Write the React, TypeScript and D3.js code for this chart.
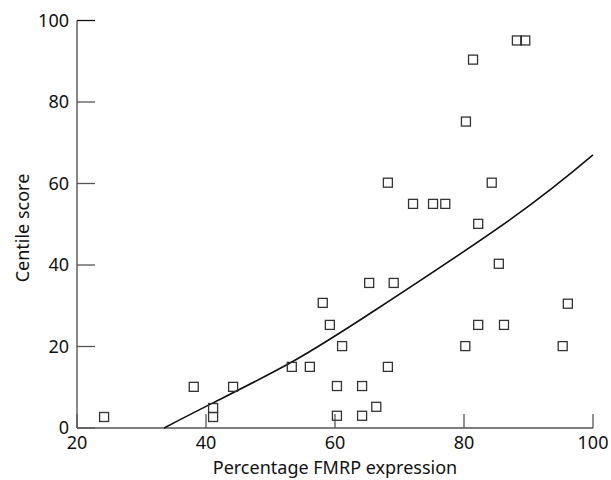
import React from 'react';
import * as d3 from 'd3';

// FMRP expression (%) vs centile score
const fmrp = [24.2, 38.1, 41.1, 41.1, 44.2, 53.3, 56.1, 58.1, 59.2, 60.3, 60.3, 61.1, 64.2, 64.2, 65.3, 66.4, 68.2,
  68.2, 69.1, 72.1, 75.2, 77.1, 80.2, 80.3, 81.4, 82.2, 82.2, 84.3, 85.4, 86.2, 88.2, 89.5, 95.3, 96.1];
const centile = [2.7, 10.1, 4.9, 2.7, 10.1, 15, 15, 30.7, 25.3, 10.3, 3, 20.1, 10.3, 3, 35.6, 5.2, 60.2,
  15, 35.6, 55, 55, 55, 20.1, 75.2, 90.4, 50.1, 25.3, 60.2, 40.3, 25.3, 95.1, 95.1, 20.1, 30.5];

// fitted curve
const fitX = [33.5, 41, 53.3, 66.5, 87.3, 100];
const fitY = [0, 6.1, 16.2, 29.2, 51.3, 67];

const xTicks = [20, 40, 60, 80, 100];
const yTicks = [0, 20, 40, 60, 80, 100];

const W = 611, H = 480;
const axisColor = '#555';
const font = '"Noto Sans", sans-serif';

export default function App() {
  const x = d3.scaleLinear().domain([20, 100]).range([77, 593]);
  const y = d3.scaleLinear().domain([0, 100]).range([428, 20.5]);

  const line = d3.line<number>()
    .x((d) => x(d))
    .y((d, i) => y(fitY[i]))
    .curve(d3.curveNatural);

  const s = 9; // square marker size

  return (
    <svg width={W} height={H} style={{ position: 'absolute', left: 0, top: 0, background: '#fff' }}
         fontFamily={font}>
      {/* axes */}
      <line x1={x(20)} x2={x(20)} y1={y(100)} y2={y(0)} stroke={axisColor} strokeWidth={1.4} />
      <line x1={x(20)} x2={x(100)} y1={y(0)} y2={y(0)} stroke={axisColor} strokeWidth={1.4} />

      {yTicks.map((t) => (
        <g key={'y' + t}>
          <line x1={x(20)} x2={x(20) + 18} y1={y(t)} y2={y(t)} stroke={t === 100 ? '#111' : axisColor} strokeWidth={1.3} />
          <text x={x(20) - 8} y={y(t)} dy="0.36em" textAnchor="end" fontSize={18} fill="#111">{t}</text>
        </g>
      ))}

      {xTicks.map((t) => (
        <g key={'x' + t}>
          <line x1={x(t)} x2={x(t)} y1={y(0)} y2={y(0) - 14} stroke={axisColor} strokeWidth={1.3} />
          <text x={x(t)} y={449} textAnchor="middle" fontSize={18} fill="#111">{t}</text>
        </g>
      ))}

      {/* axis titles */}
      <text x={(x(20) + x(100)) / 2} y={474} textAnchor="middle" fontSize={18} fill="#111">
        Percentage FMRP expression
      </text>
      <text transform={`translate(29,228) rotate(-90)`} textAnchor="middle" fontSize={18} fill="#111">
        Centile score
      </text>

      {/* fitted curve */}
      <path d={line(fitX) || ''} fill="none" stroke="#111" strokeWidth={1.6} />

      {/* points */}
      {fmrp.map((v, i) => (
        <rect key={i} x={x(v) - s / 2} y={y(centile[i]) - s / 2} width={s} height={s}
              fill="none" stroke="#333" strokeWidth={1.3} />
      ))}
    </svg>
  );
}
